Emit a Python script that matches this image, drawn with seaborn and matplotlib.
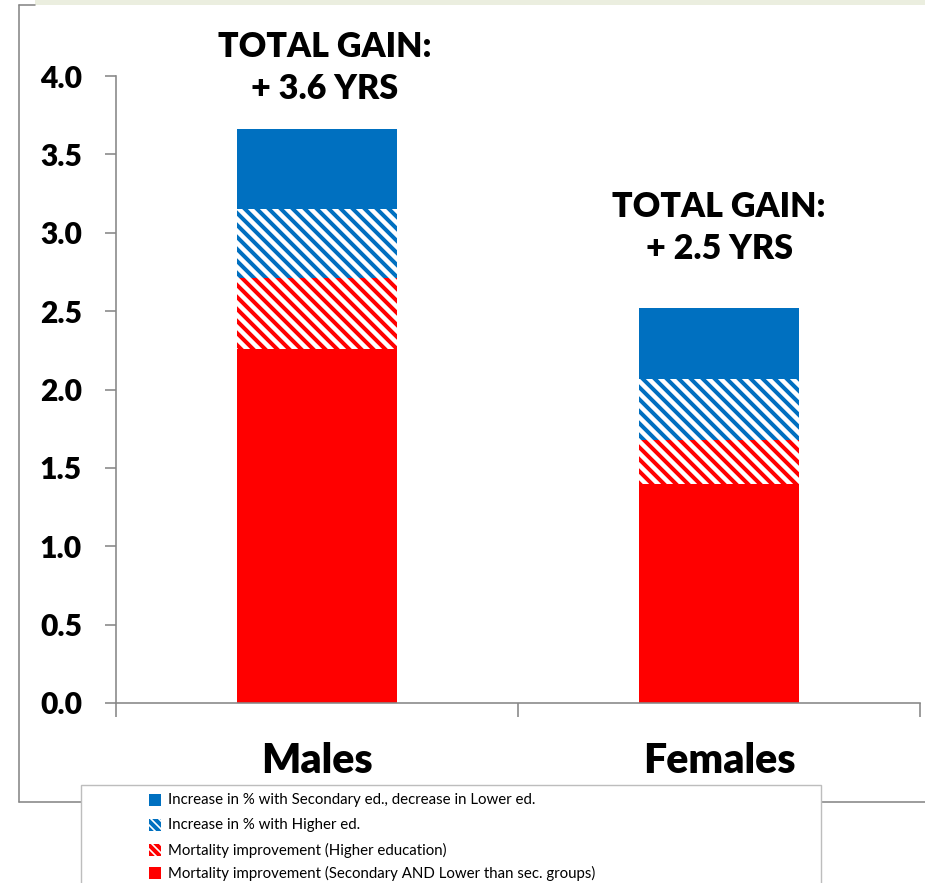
import math
import matplotlib
matplotlib.use("Agg")
import matplotlib.pyplot as plt
from matplotlib.patches import Rectangle
from matplotlib.lines import Line2D
import seaborn as sns

# Life-expectancy gain decomposition (years)
categories = ["Males", "Females"]
mort_lower_secondary = [2.26, 1.40]   # Mortality improvement (Secondary AND Lower than sec. groups)
mort_higher = [0.45, 0.28]            # Mortality improvement (Higher education)
share_higher = [0.44, 0.39]           # Increase in % with Higher ed.
share_secondary = [0.51, 0.45]        # Increase in % with Secondary ed., decrease in Lower ed.

legend_labels = [
    "Increase in % with Secondary ed., decrease in Lower ed.",
    "Increase in % with Higher ed.",
    "Mortality improvement (Higher education)",
    "Mortality improvement (Secondary AND Lower than sec. groups)",
]
y_ticks = [0.0, 0.5, 1.0, 1.5, 2.0, 2.5, 3.0, 3.5, 4.0]

BLUE = "#0070C0"
RED = "#FF0000"
GREY = "#878787"
W, H, DPI = 925, 883, 72

sns.set_style("white")
plt.rcParams["font.family"] = ["Lato", "DejaVu Sans"]
plt.rcParams["text.color"] = "black"
plt.rcParams["xtick.color"] = "black"
plt.rcParams["ytick.color"] = "black"
plt.rcParams["hatch.linewidth"] = 4.0

fig = plt.figure(figsize=(W / DPI, H / DPI), dpi=DPI)


def fx(px):
    return px / W


def fy(py):
    return 1 - py / H


ax = fig.add_axes([fx(116), fy(703), fx(920) - fx(116), fy(76) - fy(703)])

# cumulative stack heights
c1 = mort_lower_secondary
c2 = [a + b for a, b in zip(c1, mort_higher)]
c3 = [a + b for a, b in zip(c2, share_higher)]
c4 = [a + b for a, b in zip(c3, share_secondary)]

STRIPES = "\\\\"
common = dict(ax=ax, width=0.40, saturation=1, errorbar=None, linewidth=0)
sns.barplot(x=categories, y=c4, color=BLUE, edgecolor=BLUE, **common)
sns.barplot(x=categories, y=c3, color="white", edgecolor=BLUE, hatch=STRIPES, **common)
sns.barplot(x=categories, y=c2, color="white", edgecolor=RED, hatch=STRIPES, **common)
sns.barplot(x=categories, y=c1, color=RED, edgecolor=RED, **common)

ax.set_xlim(-0.5, 1.5)
ax.set_ylim(0, 4.0)
ax.set_xlabel("")
ax.set_ylabel("")

# axes styling
for side in ["top", "right"]:
    ax.spines[side].set_visible(False)
for side in ["left", "bottom"]:
    ax.spines[side].set_color(GREY)
    ax.spines[side].set_linewidth(1.6)

ax.set_yticks(y_ticks)
ax.set_yticklabels([f"{v:.1f}" for v in y_ticks], fontsize=30, fontweight="heavy")
ax.tick_params(axis="y", direction="out", length=11, width=1.6, color=GREY, pad=23, left=True)

ax.set_xticks([-0.5, 0.5, 1.5])
ax.set_xticklabels(["", "", ""])
ax.tick_params(axis="x", which="major", direction="out", length=14, width=1.6, color=GREY, bottom=True)
ax.set_xticks([0, 1], minor=True)
ax.set_xticklabels(categories, minor=True, fontsize=41, fontweight="heavy")
ax.tick_params(axis="x", which="minor", length=0, pad=39)

# total gain annotations above each bar
totals = c4
label_y = [4.05, 3.03]
label_dx = [0.02, 0.0]
for i, tot in enumerate(totals):
    txt = f"TOTAL GAIN:\n+ {math.floor(tot * 10) / 10:.1f} YRS"
    ax.text(i + label_dx[i], label_y[i], txt, ha="center", va="center", multialignment="center",
            fontsize=34, fontweight="heavy", linespacing=1.38, clip_on=False)

# outer frame and top band
fig.patches.append(Rectangle((fx(35), fy(5)), 1 - fx(35), fy(0) - fy(5), transform=fig.transFigure,
                             facecolor="#EBEEDF", edgecolor="none", zorder=0))
frame_kw = dict(transform=fig.transFigure, color=GREY, linewidth=1.6)
fig.lines.append(Line2D([fx(19), fx(19)], [fy(5), fy(802)], **frame_kw))
fig.lines.append(Line2D([fx(19), fx(35)], [fy(5), fy(5)], **frame_kw))
fig.lines.append(Line2D([fx(19), fx(925)], [fy(802), fy(802)], **frame_kw))

# legend box
fig.patches.append(Rectangle((fx(81), fy(900)), fx(821) - fx(81), fy(785) - fy(900),
                             transform=fig.transFigure, facecolor="white", edgecolor="#BDBDBD",
                             linewidth=1.4, zorder=5))
styles = [
    dict(facecolor=BLUE, edgecolor=BLUE, hatch=None),
    dict(facecolor="white", edgecolor=BLUE, hatch="\\\\\\"),
    dict(facecolor="white", edgecolor=RED, hatch="\\\\\\"),
    dict(facecolor=RED, edgecolor=RED, hatch=None),
]
rows = [800, 825, 850, 873]
for lab, st, yc in zip(legend_labels, styles, rows):
    fig.patches.append(Rectangle((fx(149), fy(yc + 6)), fx(161) - fx(149), fy(yc - 6) - fy(yc + 6),
                                 transform=fig.transFigure, linewidth=0, zorder=6, **st))
    fig.text(fx(168), fy(yc), lab, ha="left", va="center", fontsize=15, zorder=7)

fig.savefig("out.png", dpi=DPI)
